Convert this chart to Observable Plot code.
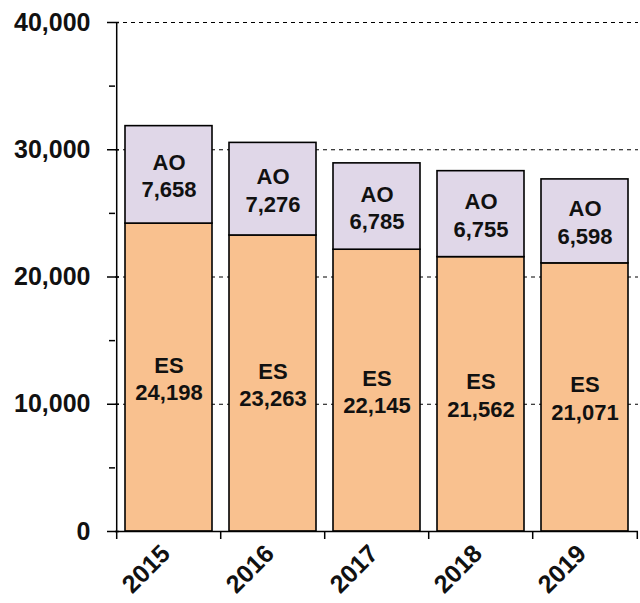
<!DOCTYPE html>
<html>
<head>
<meta charset="utf-8">
<script src="https://cdn.jsdelivr.net/npm/d3@7"></script>
<script src="https://cdn.jsdelivr.net/npm/@observablehq/plot@0.6"></script>
<style>
  html, body { margin: 0; padding: 0; background: #fff; }
  #chart svg { display: block; }
</style>
</head>
<body>
<div id="chart"></div>
<script>
const years = ["2015", "2016", "2017", "2018", "2019"];
const esValues = [24198, 23263, 22145, 21562, 21071];
const aoValues = [7658, 7276, 6785, 6755, 6598];
const seriesNames = ["ES", "AO"];
const seriesColors = ["#F9C18F", "#E0D7E8"];
const majorTicks = [0, 10000, 20000, 30000, 40000];
const minorTicks = [5000, 15000, 25000, 35000];
const gridTicks = [10000, 20000, 30000, 40000];

const data = [];
years.forEach((yr, i) => {
  data.push({year: yr, series: "ES", value: esValues[i]});
  data.push({year: yr, series: "AO", value: aoValues[i]});
});

const W = 640, H = 603;
const mL = 115, mR = 2, mT = 22, mB = 72;
const step = (W - mL - mR) / years.length;
const font = "'Liberation Sans', Arial, sans-serif";
const fmt = d3.format(",");

const plot = Plot.plot({
  width: W,
  height: H,
  marginLeft: mL,
  marginRight: mR,
  marginTop: mT,
  marginBottom: mB,
  style: {fontFamily: font, background: "#fff", color: "#000"},
  x: {domain: years, paddingInner: 0.16, paddingOuter: 0.08, label: null},
  y: {domain: [0, 40000], label: null},
  color: {domain: seriesNames, range: seriesColors},
  marks: [
    Plot.gridY(gridTicks, {stroke: "#000", strokeOpacity: 1, strokeDasharray: "4,4", strokeWidth: 1}),
    Plot.barY(data, Plot.stackY({x: "year", y: "value", z: "series", fill: "series", order: seriesNames, stroke: "#000", strokeWidth: 1.6})),
    Plot.text(data, Plot.stackY({
      x: "year", y: "value", z: "series", order: seriesNames,
      text: d => d.series + "\n" + fmt(d.value),
      fontSize: 22, fontWeight: "bold", lineHeight: 1.25, fill: "#111"
    })),
    Plot.ruleX([years[0]], {y1: 0, y2: 40000, dx: -step / 2, stroke: "#000", strokeWidth: 1.5}),
    Plot.ruleY([0], {stroke: "#000", strokeWidth: 1.5}),
    Plot.axisY(majorTicks, {tickSize: 12, dx: 4, text: null, stroke: "#000", strokeWidth: 1.5}),
    Plot.axisY(minorTicks, {tickSize: 6, text: null, stroke: "#000", strokeWidth: 1.5}),
    Plot.axisY(majorTicks, {tickSize: 0, tickPadding: 25, tickFormat: fmt, fontSize: 25, fontWeight: "bold", fill: "#111"}),
    Plot.axisX(years, {tickSize: 8, dx: -step / 2, text: null, stroke: "#000", strokeWidth: 1.5}),
    Plot.axisX([years[years.length - 1]], {tickSize: 8, dx: step / 2, text: null, stroke: "#000", strokeWidth: 1.5}),
    Plot.axisX(years, {tickSize: 0, tickRotate: -45, tickPadding: 18, dx: -3, fontSize: 25, fontWeight: "bold", fill: "#111", label: null})
  ]
});

document.getElementById("chart").appendChild(plot);
</script>
</body>
</html>
